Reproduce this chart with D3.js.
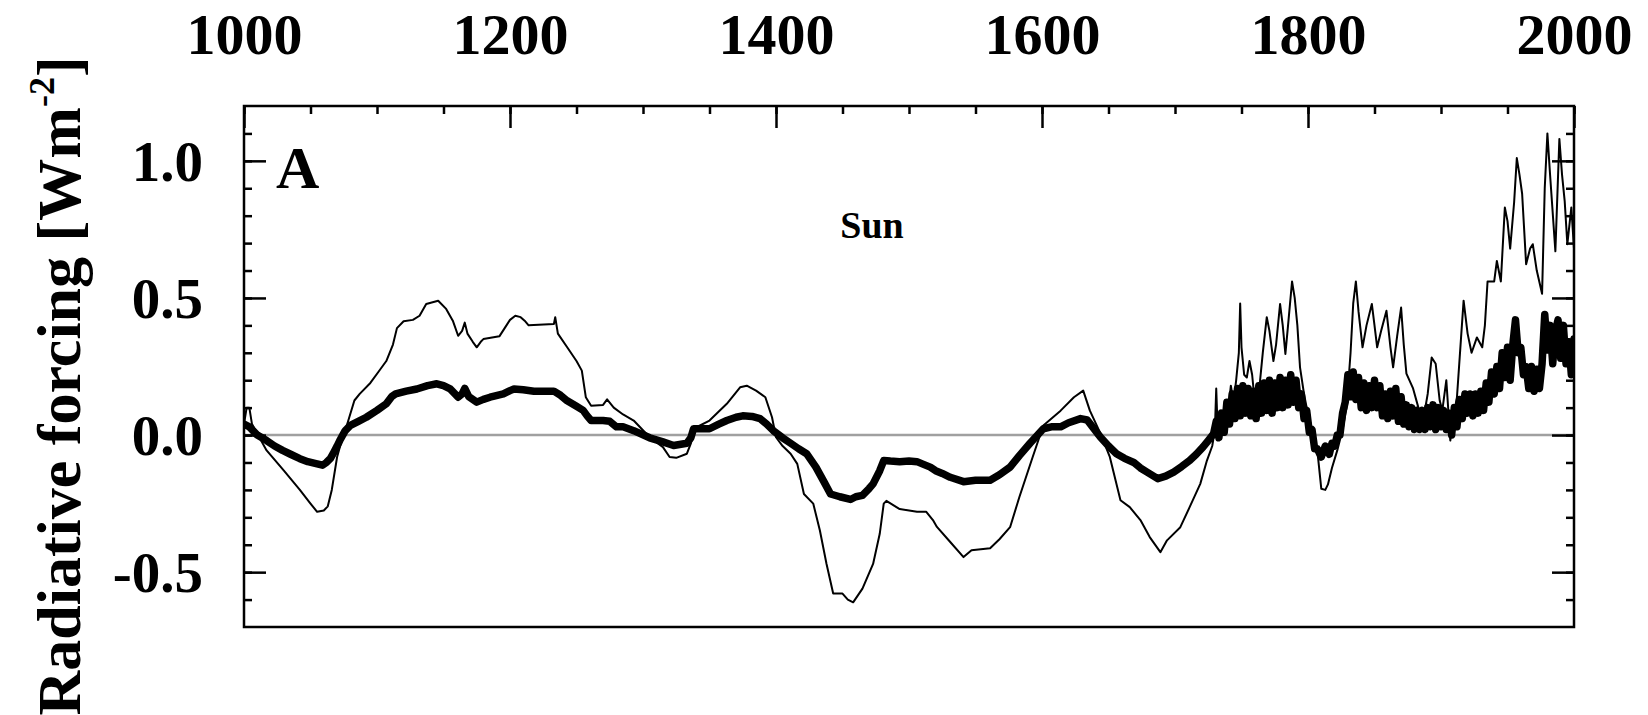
<!DOCTYPE html>
<html>
<head>
<meta charset="utf-8">
<script src="https://cdn.jsdelivr.net/npm/d3@7"></script>
<style>
  html, body { margin: 0; padding: 0; background: #fff; }
  svg { display: block; }
  text { font-family: "Liberation Serif", "Times New Roman", serif; font-weight: bold; fill: #000; }
</style>
</head>
<body>
<svg id="chart" width="1648" height="715"></svg>
<script>
// Solar radiative forcing reconstructions, W m^-2, by year.
// Larger-amplitude reconstruction (thin line).
const sunStrong = [
  [1000,0.04],[1002,0.10],[1004,0.10],[1006,0.04],[1017,-0.056],[1030,-0.13],[1042,-0.20],
  [1050,-0.25],[1055,-0.28],[1060,-0.275],[1063,-0.26],[1066,-0.20],[1070,-0.08],[1074,-0.01],
  [1077,0.03],[1083,0.126],[1087,0.15],[1095,0.19],[1101,0.23],[1107,0.27],[1112,0.33],
  [1115,0.39],[1120,0.415],[1127,0.42],[1132,0.435],[1137,0.478],[1146,0.49],[1152,0.46],
  [1157,0.417],[1161,0.362],[1164,0.38],[1166,0.41],[1168,0.37],[1172,0.34],[1175,0.32],
  [1178,0.34],[1180,0.35],[1192,0.36],[1196,0.39],[1200,0.42],[1204,0.435],[1208,0.43],
  [1211,0.417],[1214,0.40],[1233,0.405],[1234,0.43],[1236,0.37],[1243,0.32],[1250,0.27],
  [1254,0.235],[1257,0.138],[1261,0.107],[1270,0.11],[1273,0.13],[1278,0.10],[1285,0.075],
  [1293,0.053],[1305,-0.008],[1315,-0.044],[1320,-0.08],[1325,-0.083],[1333,-0.068],
  [1336,-0.03],[1338,0.023],[1350,0.053],[1363,0.114],[1373,0.174],[1378,0.18],[1385,0.162],
  [1392,0.138],[1397,0.065],[1400,-0.008],[1405,-0.04],[1411,-0.068],[1416,-0.105],
  [1421,-0.215],[1428,-0.25],[1433,-0.348],[1438,-0.47],[1443,-0.578],[1450,-0.578],
  [1454,-0.60],[1458,-0.61],[1465,-0.56],[1473,-0.47],[1478,-0.36],[1481,-0.25],[1483,-0.24],
  [1493,-0.27],[1506,-0.28],[1513,-0.28],[1518,-0.31],[1521,-0.335],[1531,-0.39],
  [1541,-0.445],[1547,-0.42],[1561,-0.413],[1568,-0.38],[1576,-0.336],[1583,-0.226],
  [1593,-0.08],[1601,0.035],[1614,0.089],[1624,0.138],[1631,0.162],[1636,0.089],[1644,0.005],
  [1651,-0.08],[1659,-0.238],[1666,-0.263],[1674,-0.31],[1681,-0.372],[1689,-0.427],
  [1694,-0.384],[1704,-0.336],[1711,-0.263],[1719,-0.178],[1724,-0.093],[1728,-0.04],
  [1730,0.02],[1731,0.17],[1732,0.03],[1734,0.08],[1736,0.05],[1738,0.12],[1740,0.09],
  [1742,0.18],[1744,0.12],[1746,0.20],[1748,0.30],[1749,0.48],[1750,0.32],[1752,0.22],
  [1754,0.21],[1756,0.27],[1758,0.22],[1760,0.12],[1762,0.10],[1764,0.20],[1766,0.30],
  [1769,0.43],[1771,0.38],[1774,0.27],[1776,0.33],[1779,0.478],[1781,0.40],[1783,0.296],
  [1785,0.40],[1788,0.56],[1790,0.50],[1792,0.40],[1794,0.247],[1797,0.15],[1799,0.10],
  [1803,0.02],[1807,-0.056],[1810,-0.196],[1813,-0.20],[1815,-0.18],[1818,-0.12],
  [1822,-0.056],[1826,0.02],[1829,0.10],[1832,0.30],[1834,0.48],[1836,0.56],[1838,0.45],
  [1841,0.32],[1844,0.40],[1848,0.478],[1850,0.40],[1852,0.32],[1855,0.38],[1859,0.453],
  [1862,0.32],[1864,0.247],[1867,0.36],[1870,0.465],[1872,0.33],[1874,0.224],[1879,0.17],
  [1883,0.10],[1887,0.065],[1890,0.15],[1893,0.283],[1896,0.26],[1899,0.126],[1901,0.09],
  [1904,0.20],[1907,-0.02],[1909,0.06],[1912,0.138],[1915,0.35],[1917,0.49],[1920,0.37],
  [1923,0.30],[1927,0.356],[1931,0.32],[1933,0.40],[1935,0.56],[1940,0.56],[1942,0.635],
  [1945,0.56],[1948,0.83],[1950,0.78],[1952,0.68],[1955,0.85],[1957,1.01],[1959,0.95],
  [1961,0.88],[1964,0.623],[1967,0.68],[1969,0.696],[1972,0.60],[1976,0.515],[1978,0.90],
  [1980,1.10],[1982,0.95],[1983,0.88],[1986,0.67],[1989,1.08],[1991,0.95],[1993,0.853],
  [1995,0.696],[1998,0.83],[2000,0.68]
];

// Smaller-amplitude reconstruction (thick line).
const sunWeak = [
  [1000,0.04],[1004,0.03],[1010,0.00],[1017,-0.02],[1023,-0.04],[1029,-0.056],[1035,-0.07],
  [1042,-0.086],[1048,-0.097],[1055,-0.105],[1059,-0.11],[1062,-0.10],[1065,-0.085],
  [1067,-0.068],[1070,-0.04],[1072,-0.02],[1076,0.015],[1080,0.035],[1086,0.05],[1092,0.065],
  [1100,0.09],[1107,0.114],[1111,0.14],[1114,0.15],[1122,0.16],[1130,0.168],[1138,0.18],
  [1145,0.187],[1150,0.18],[1155,0.168],[1161,0.138],[1164,0.15],[1166,0.17],[1169,0.14],
  [1175,0.12],[1180,0.13],[1185,0.138],[1195,0.15],[1200,0.162],[1203,0.168],[1210,0.165],
  [1218,0.16],[1233,0.16],[1238,0.145],[1243,0.125],[1250,0.105],[1255,0.09],[1258,0.07],
  [1261,0.053],[1270,0.053],[1275,0.05],[1280,0.03],[1285,0.03],[1293,0.016],[1305,-0.01],
  [1315,-0.025],[1323,-0.038],[1333,-0.03],[1336,-0.01],[1338,0.023],[1350,0.023],
  [1357,0.04],[1363,0.053],[1370,0.065],[1375,0.07],[1382,0.068],[1388,0.06],[1393,0.04],
  [1398,0.016],[1405,-0.01],[1411,-0.03],[1417,-0.05],[1423,-0.068],[1430,-0.117],
  [1436,-0.17],[1441,-0.215],[1448,-0.225],[1456,-0.235],[1460,-0.225],[1465,-0.22],
  [1470,-0.195],[1473,-0.178],[1478,-0.13],[1481,-0.093],[1486,-0.095],[1493,-0.097],
  [1500,-0.095],[1506,-0.097],[1510,-0.105],[1516,-0.117],[1520,-0.13],[1525,-0.14],
  [1531,-0.154],[1541,-0.17],[1550,-0.165],[1561,-0.165],[1568,-0.145],[1576,-0.117],
  [1583,-0.075],[1591,-0.03],[1601,0.023],[1607,0.03],[1614,0.03],[1620,0.045],[1629,0.06],
  [1634,0.055],[1638,0.03],[1644,-0.008],[1650,-0.04],[1656,-0.068],[1662,-0.085],
  [1669,-0.10],[1674,-0.12],[1679,-0.135],[1687,-0.159],[1693,-0.15],[1699,-0.135],
  [1705,-0.115],[1711,-0.093],[1716,-0.07],[1721,-0.044],[1725,-0.02],[1729,0.005],
  [1731,0.05],[1733,-0.01],[1735,0.08],[1737,0.01],[1739,0.12],[1741,0.04],[1743,0.15],
  [1745,0.06],[1747,0.17],[1749,0.07],[1751,0.18],[1753,0.08],[1755,0.17],[1757,0.07],
  [1759,0.16],[1761,0.06],[1763,0.18],[1765,0.08],[1767,0.19],[1769,0.09],[1771,0.20],
  [1773,0.08],[1775,0.19],[1777,0.10],[1779,0.21],[1781,0.10],[1783,0.20],[1785,0.11],
  [1787,0.22],[1789,0.12],[1791,0.20],[1793,0.10],[1795,0.15],[1797,0.06],[1799,0.09],
  [1801,0.01],[1803,0.02],[1805,-0.05],[1807,-0.05],[1810,-0.08],[1813,-0.04],[1816,-0.07],
  [1818,-0.03],[1820,-0.04],[1822,0.00],[1824,0.00],[1826,0.08],[1828,0.12],[1830,0.22],
  [1832,0.14],[1834,0.23],[1836,0.13],[1838,0.21],[1840,0.10],[1842,0.19],[1844,0.09],
  [1846,0.18],[1848,0.10],[1850,0.20],[1852,0.10],[1854,0.18],[1856,0.07],[1858,0.15],
  [1860,0.06],[1862,0.16],[1864,0.07],[1866,0.17],[1868,0.05],[1870,0.14],[1872,0.04],
  [1874,0.11],[1876,0.03],[1878,0.10],[1880,0.02],[1882,0.09],[1884,0.02],[1886,0.09],
  [1888,0.02],[1890,0.10],[1892,0.03],[1894,0.11],[1896,0.02],[1898,0.10],[1900,0.03],
  [1902,0.09],[1904,0.02],[1906,0.08],[1908,0.00],[1910,0.10],[1912,0.03],[1914,0.13],
  [1916,0.06],[1918,0.15],[1920,0.08],[1922,0.15],[1924,0.07],[1926,0.15],[1928,0.08],
  [1930,0.16],[1932,0.09],[1934,0.19],[1936,0.12],[1938,0.23],[1940,0.15],[1942,0.25],
  [1944,0.17],[1946,0.30],[1948,0.21],[1950,0.32],[1952,0.20],[1954,0.33],[1956,0.42],
  [1958,0.30],[1960,0.32],[1962,0.22],[1964,0.25],[1966,0.17],[1968,0.25],[1970,0.16],
  [1972,0.24],[1974,0.17],[1976,0.26],[1978,0.44],[1980,0.31],[1982,0.40],[1984,0.26],
  [1986,0.38],[1988,0.42],[1990,0.28],[1992,0.40],[1994,0.26],[1996,0.34],[1998,0.22],
  [2000,0.35]
];

const yearTicks = [1000, 1200, 1400, 1600, 1800, 2000];
const yearMinorTicks = d3.range(1000, 2001, 50);
const forcingTicks = [-0.5, 0.0, 0.5, 1.0];
const forcingMinorTicks = d3.range(-0.6, 1.15, 0.1).map(v => Math.round(v * 10) / 10);
const panelLabel = "A";
const seriesLabel = "Sun";

const svg = d3.select("#chart");
const margin = { left: 244, right: 74, top: 106, bottom: 88 };
const W = 1648, H = 715;
const x = d3.scaleLinear().domain([1000, 2000]).range([margin.left, W - margin.right]);
const y = d3.scaleLinear().domain([-0.7, 1.2]).range([H - margin.bottom, margin.top]);

svg.append("clipPath").attr("id", "plot-clip")
  .append("rect")
  .attr("x", x(1000)).attr("y", y(1.2))
  .attr("width", x(2000) - x(1000)).attr("height", y(-0.7) - y(1.2));

// zero reference line
svg.append("line")
  .attr("x1", x(1000)).attr("x2", x(2000))
  .attr("y1", y(0)).attr("y2", y(0))
  .attr("stroke", "#a0a0a0").attr("stroke-width", 2.5);

const line = d3.line().x(d => x(d[0])).y(d => y(d[1]));

const plot = svg.append("g").attr("clip-path", "url(#plot-clip)");
plot.append("path").datum(sunStrong)
  .attr("d", line).attr("fill", "none").attr("stroke", "#000")
  .attr("stroke-width", 2).attr("stroke-linejoin", "round");
plot.append("path").datum(sunWeak)
  .attr("d", line).attr("fill", "none").attr("stroke", "#000")
  .attr("stroke-width", 7.5).attr("stroke-linejoin", "round").attr("stroke-linecap", "round");

// axes: ticks point inward
function styleAxis(g) {
  g.select(".domain").remove();
  g.selectAll(".tick line").attr("stroke", "#000").attr("stroke-width", 2.5);
}

// top axis with year labels
svg.append("g").attr("transform", `translate(0,${y(1.2)})`)
  .call(d3.axisTop(x).tickValues(yearMinorTicks).tickSize(-8).tickFormat(""))
  .call(styleAxis);
const topAxis = svg.append("g").attr("transform", `translate(0,${y(1.2)})`)
  .call(d3.axisTop(x).tickValues(yearTicks).tickSize(-22).tickFormat(d3.format("d")))
  .call(styleAxis);
topAxis.selectAll(".tick text")
  .attr("y", -52).attr("dy", 0)
  .style("font-size", "58px").style("font-family", "'Liberation Serif', serif")
  .style("font-weight", "bold");

// left axis with forcing labels
svg.append("g").attr("transform", `translate(${x(1000)},0)`)
  .call(d3.axisLeft(y).tickValues(forcingMinorTicks).tickSize(-8).tickFormat(""))
  .call(styleAxis);
const leftAxis = svg.append("g").attr("transform", `translate(${x(1000)},0)`)
  .call(d3.axisLeft(y).tickValues(forcingTicks).tickSize(-22).tickFormat(v => v.toFixed(1)))
  .call(styleAxis);
leftAxis.selectAll(".tick text")
  .attr("x", -41).attr("dy", "0.34em")
  .style("font-size", "57px").style("font-family", "'Liberation Serif', serif")
  .style("font-weight", "bold");

// right axis, ticks only
svg.append("g").attr("transform", `translate(${x(2000)},0)`)
  .call(d3.axisRight(y).tickValues(forcingMinorTicks).tickSize(-8).tickFormat(""))
  .call(styleAxis);
svg.append("g").attr("transform", `translate(${x(2000)},0)`)
  .call(d3.axisRight(y).tickValues(forcingTicks).tickSize(-22).tickFormat(""))
  .call(styleAxis);

// frame
svg.append("rect")
  .attr("x", x(1000)).attr("y", y(1.2))
  .attr("width", x(2000) - x(1000)).attr("height", y(-0.7) - y(1.2))
  .attr("fill", "none").attr("stroke", "#000").attr("stroke-width", 2.5);

// panel and series labels
svg.append("text").attr("x", x(1000) + 32).attr("y", 188)
  .style("font-size", "60px").text(panelLabel);
svg.append("text").attr("x", 872).attr("y", 238).attr("text-anchor", "middle")
  .style("font-size", "38px").text(seriesLabel);

// y-axis title
const title = svg.append("text")
  .attr("transform", "translate(80,386) rotate(-90)")
  .attr("text-anchor", "middle")
  .style("font-size", "62px");
title.append("tspan").text("Radiative forcing [Wm");
title.append("tspan").attr("dy", -26).style("font-size", "36px").text("-2");
title.append("tspan").attr("dy", 26).text("]");
</script>
</body>
</html>
